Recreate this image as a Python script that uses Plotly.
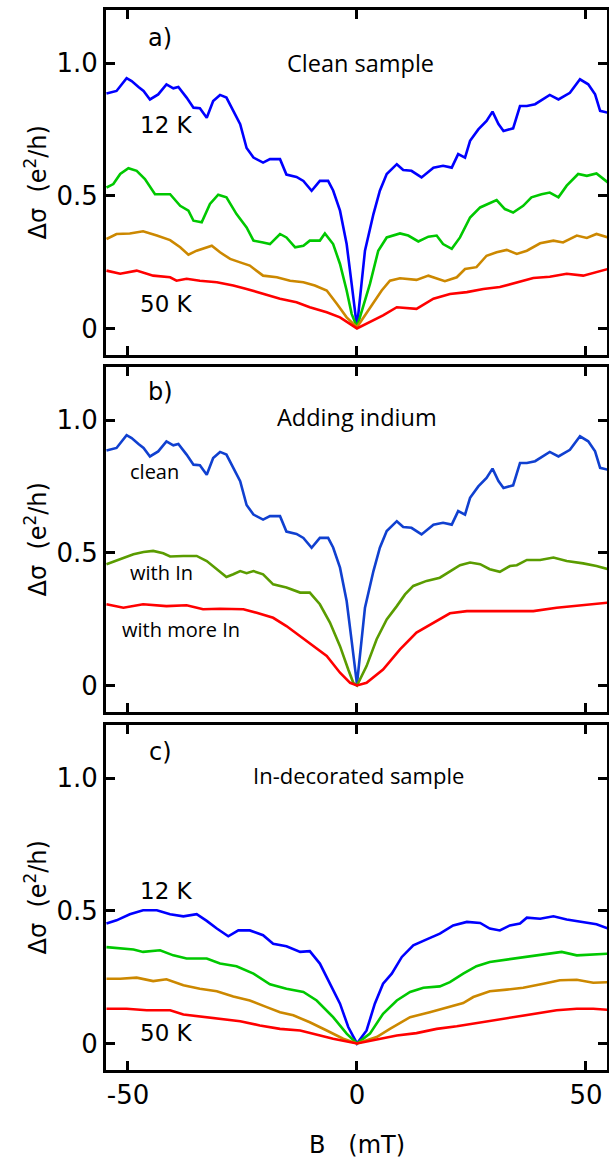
import plotly.graph_objects as go

# ---------------- data (B in mT, delta sigma in e^2/h) ----------------
a12_B = [-54.7,-52.5,-50.3,-49.2,-47.7,-46.6,-45.2,-43.4,-41.6,-40.1,-39.0,-37.2,-35.7,-34.3,-32.8,-31.4,-29.9,-28.5,-27.0,-25.5,-24.1,-22.6,-20.5,-19.0,-16.8,-15.4,-13.2,-11.7,-9.9,-8.1,-6.3,-5.2,-3.7,-2.25,-1.16,0,
         1.75,3.6,5.0,6.5,8.7,10.1,11.9,14.1,16.7,18.8,20.7,22.1,23.6,24.7,26.5,28.3,29.6,30.9,32.0,34.1,35.6,37.1,38.9,40.7,42.1,44.0,46.5,48.7,50.5,52.0,53.1,54.8]
a12_V = [0.885,0.895,0.943,0.932,0.91,0.895,0.863,0.882,0.92,0.905,0.91,0.87,0.832,0.83,0.794,0.857,0.88,0.87,0.82,0.77,0.68,0.644,0.625,0.638,0.638,0.58,0.571,0.556,0.519,0.556,0.556,0.52,0.444,0.318,0.168,0.005,
         0.293,0.431,0.519,0.582,0.619,0.597,0.594,0.569,0.606,0.613,0.606,0.657,0.644,0.707,0.75,0.782,0.817,0.77,0.744,0.754,0.838,0.838,0.845,0.863,0.88,0.863,0.888,0.939,0.92,0.882,0.82,0.813]

a2_B = [-54.7,-53.2,-51.7,-49.9,-48.1,-46.3,-44.1,-40.8,-38.6,-36.8,-35.7,-33.9,-32.1,-30.3,-28.5,-26.3,-24.1,-22.6,-20.5,-19.0,-16.8,-15.4,-13.5,-11.7,-10.3,-8.1,-7.0,-5.2,-3.7,-2.25,-1.16,0,
        2.84,4.65,6.5,9.4,11.2,13.4,15.6,17.4,18.8,20.7,22.5,24.7,26.9,29.0,30.5,32.3,34.1,36.3,38.1,40.3,42.1,44.0,45.8,48.3,50.2,52.3,54.8]
a2_V = [0.531,0.544,0.582,0.604,0.594,0.563,0.506,0.506,0.462,0.444,0.406,0.40,0.469,0.504,0.494,0.431,0.381,0.331,0.324,0.318,0.356,0.343,0.306,0.312,0.331,0.331,0.358,0.318,0.243,0.143,0.055,0.005,
        0.168,0.293,0.343,0.358,0.35,0.328,0.346,0.35,0.318,0.30,0.343,0.418,0.456,0.471,0.484,0.45,0.437,0.462,0.494,0.506,0.512,0.494,0.538,0.582,0.575,0.584,0.55]

a3_B = [-54.7,-52.5,-49.6,-46.7,-43.7,-40.8,-38.6,-36.8,-35.0,-31.7,-29.9,-27.7,-25.5,-23.4,-20.5,-17.5,-14.6,-11.7,-9.2,-6.6,-4.4,-2.25,0,
        2.84,5.4,7.2,9.4,13.0,15.6,19.2,21.8,23.6,26.1,28.3,30.5,32.7,34.9,37.1,40.0,42.9,45.0,48.0,50.2,52.3,54.8]
a3_V = [0.337,0.356,0.358,0.366,0.35,0.333,0.306,0.278,0.293,0.312,0.287,0.262,0.249,0.237,0.199,0.193,0.18,0.174,0.162,0.143,0.093,0.042,0.005,
        0.08,0.143,0.18,0.189,0.183,0.199,0.178,0.193,0.224,0.231,0.274,0.287,0.296,0.281,0.293,0.321,0.331,0.324,0.35,0.341,0.356,0.343]

a50_B = [-54.7,-51.7,-48.1,-44.5,-40.8,-39.4,-37.2,-34.3,-30.6,-27.0,-24.1,-20.5,-16.8,-13.2,-10.3,-6.6,-3.7,0,
         2.84,5.7,8.7,13.0,16.7,20.3,24.0,27.6,31.2,34.9,38.5,42.1,45.8,49.4,52.3,54.8]
a50_V = [0.218,0.206,0.218,0.199,0.193,0.18,0.187,0.18,0.174,0.162,0.149,0.13,0.112,0.099,0.08,0.061,0.042,0.0,
         0.024,0.049,0.08,0.074,0.112,0.13,0.137,0.149,0.156,0.174,0.19,0.195,0.206,0.199,0.212,0.224]

bclean_B = a12_B
bclean_V = a12_V

bin_B = [-54.7,-51.7,-48.8,-46.6,-44.5,-42.3,-40.8,-37.9,-35.0,-32.8,-30.6,-28.5,-27.0,-25.5,-24.1,-22.6,-20.5,-18.3,-15.4,-12.4,-10.3,-8.1,-5.9,-3.7,-1.9,-0.8,0,
         2.1,4.3,6.5,8.7,10.5,12.3,15.2,18.1,20.3,22.5,24.7,26.9,29.0,31.2,33.4,34.9,37.1,40.0,42.9,45.8,49.4,52.3,54.8]
bin_V = [0.457,0.475,0.494,0.503,0.507,0.498,0.486,0.488,0.488,0.469,0.44,0.409,0.419,0.431,0.423,0.431,0.419,0.381,0.369,0.35,0.35,0.306,0.237,0.148,0.06,0.01,0.0,
         0.073,0.174,0.249,0.299,0.343,0.375,0.394,0.406,0.431,0.453,0.463,0.457,0.438,0.428,0.45,0.453,0.473,0.473,0.482,0.469,0.46,0.45,0.438]

bmore_B = [-54.7,-51.0,-46.7,-41.6,-37.2,-33.6,-29.9,-24.8,-21.9,-18.3,-15.4,-12.4,-9.5,-6.6,-3.7,-1.5,0,
           2.1,5.7,9.4,13.0,16.7,20.3,24.0,31.2,38.5,43.6,49.4,54.8]
bmore_V = [0.306,0.293,0.306,0.299,0.302,0.287,0.289,0.287,0.274,0.255,0.224,0.186,0.148,0.111,0.048,0.01,0.0,
           0.01,0.06,0.136,0.199,0.237,0.272,0.28,0.28,0.28,0.293,0.302,0.312]

c12_B = [-54.7,-52.5,-49.6,-46.7,-43.7,-40.8,-37.9,-35.0,-32.8,-30.6,-28.1,-25.9,-23.4,-20.5,-18.3,-15.4,-12.4,-10.3,-8.1,-5.9,-3.7,-1.9,0,
         2.1,3.9,5.7,7.6,9.8,12.3,15.6,18.1,21.0,24.0,26.9,29.0,31.2,33.4,35.6,37.1,40.0,42.9,45.8,49.4,52.3,54.8]
c12_V = [0.452,0.464,0.487,0.502,0.502,0.487,0.479,0.487,0.462,0.433,0.404,0.426,0.426,0.408,0.376,0.366,0.345,0.348,0.301,0.225,0.15,0.062,0.0,
         0.049,0.15,0.225,0.263,0.326,0.37,0.395,0.414,0.445,0.458,0.454,0.433,0.426,0.445,0.452,0.474,0.47,0.479,0.467,0.458,0.449,0.433]

c2_B = [-54.7,-51.7,-48.8,-46.7,-43.0,-40.1,-37.2,-32.8,-29.9,-26.3,-22.6,-19.0,-15.4,-11.7,-8.8,-5.2,-2.25,0,
        2.84,5.7,8.7,11.6,14.5,18.1,20.3,23.2,26.1,29.0,32.7,37.1,40.7,44.7,48.0,51.6,54.8]
c2_V = [0.363,0.357,0.354,0.345,0.351,0.332,0.32,0.32,0.301,0.291,0.263,0.223,0.206,0.194,0.162,0.099,0.037,0.0,
        0.037,0.112,0.162,0.194,0.21,0.215,0.231,0.263,0.291,0.307,0.316,0.326,0.336,0.345,0.332,0.336,0.338]

c3_B = [-54.7,-51.7,-48.1,-44.5,-41.6,-37.9,-34.3,-30.6,-27.0,-23.4,-19.7,-16.8,-13.9,-10.3,-6.6,-3.0,0,
        4.3,7.2,11.6,15.9,20.3,23.2,25.4,29.0,32.7,36.3,40.7,44.3,48.0,51.6,54.8]
c3_V = [0.244,0.244,0.248,0.235,0.242,0.219,0.206,0.197,0.177,0.162,0.137,0.118,0.106,0.08,0.049,0.018,0.0,
        0.024,0.055,0.099,0.118,0.137,0.152,0.175,0.197,0.203,0.21,0.225,0.238,0.24,0.229,0.231]

c50_B = [-54.7,-50.3,-45.9,-40.8,-37.9,-34.3,-29.9,-25.5,-21.2,-16.8,-12.4,-8.8,-5.2,0,
         4.3,8.7,13.0,17.4,21.8,26.1,30.5,34.9,39.2,43.6,48.0,51.6,54.8]
c50_V = [0.131,0.131,0.125,0.125,0.109,0.102,0.093,0.084,0.068,0.055,0.049,0.034,0.018,0.0,
         0.014,0.03,0.039,0.055,0.065,0.077,0.089,0.102,0.114,0.125,0.131,0.131,0.127]

x_ticks = [-50, 0, 50]
x_ticktext = ["-50", "0", "50"]
y_ticks = [0, 0.5, 1.0]
y_ticktext = ["0", "0.5", "1.0"]

# ---------------- figure ----------------
W, H = 609, 1161
BLUE, GREEN, ORANGE, RED = "#0000ff", "#00c800", "#cc8800", "#ff0000"
BLUE_B, OLIVE = "#1040d0", "#5a9c00"
NUM_FONT = "DejaVu Sans"
TXT_FONT = "Open Sans"

fig = go.Figure()

panels = [
    ("x", "y", [(a12_B, a12_V, BLUE), (a2_B, a2_V, GREEN), (a3_B, a3_V, ORANGE), (a50_B, a50_V, RED)]),
    ("x2", "y2", [(bclean_B, bclean_V, BLUE_B), (bin_B, bin_V, OLIVE), (bmore_B, bmore_V, RED)]),
    ("x3", "y3", [(c12_B, c12_V, BLUE), (c2_B, c2_V, GREEN), (c3_B, c3_V, ORANGE), (c50_B, c50_V, RED)]),
]
for xa, ya, series in panels:
    for bx, by, col in series:
        fig.add_trace(go.Scatter(x=bx, y=by, xaxis=xa, yaxis=ya, mode="lines",
                                 line=dict(color=col, width=2.6), showlegend=False,
                                 hoverinfo="skip"))

xdom = [106 / W, 607 / W]
ydoms = [
    [1 - 355 / H, 1 - 10 / H],
    [1 - 712 / H, 1 - 367 / H],
    [1 - 1070 / H, 1 - 725 / H],
]

common_axis = dict(showline=True, linewidth=3, linecolor="black", mirror="ticks",
                   ticks="inside", ticklen=9, tickwidth=3, tickcolor="black",
                   showgrid=False, zeroline=False)

layout = dict(width=W, height=H, margin=dict(l=0, r=0, t=0, b=0),
              paper_bgcolor="white", plot_bgcolor="white", showlegend=False)

for i, suf in enumerate(["", "2", "3"]):
    layout["xaxis" + suf] = dict(common_axis, domain=xdom, anchor="y" + suf,
                                 range=[-54.8, 54.6], tickvals=x_ticks, ticktext=x_ticktext,
                                 showticklabels=(i == 2),
                                 tickfont=dict(family=NUM_FONT, size=26, color="black"))
    layout["yaxis" + suf] = dict(common_axis, domain=ydoms[i], anchor="x" + suf,
                                 range=[-0.1, 1.2], tickvals=y_ticks, ticktext=y_ticktext,
                                 tickfont=dict(family=NUM_FONT, size=26, color="black"))
fig.update_layout(**layout)

ann = []
def txt(xref, yref, x, y, s, size, family=NUM_FONT, **kw):
    ann.append(dict(xref=xref, yref=yref, x=x, y=y, text=s, showarrow=False,
                    font=dict(family=family, size=size, color="black"),
                    xanchor="center", yanchor="middle", **kw))

# panel a
txt("x", "y", -43, 1.094, "a)", 24)
txt("x", "y", 0.7, 1.0, "Clean sample", 23.5, TXT_FONT)
txt("x", "y", -41.5, 0.767, "12 K", 23)
txt("x", "y", -41.5, 0.092, "50 K", 23)
# panel b
txt("x2", "y2", -43, 1.106, "b)", 24)
txt("x2", "y2", 0, 1.01, "Adding indium", 23.5, TXT_FONT)
txt("x2", "y2", -44.3, 0.808, "clean", 20, TXT_FONT)
txt("x2", "y2", -42.6, 0.426, "with In", 20, TXT_FONT)
txt("x2", "y2", -38.4, 0.211, "with more In", 20, TXT_FONT)
# panel c
txt("x3", "y3", -43, 1.098, "c)", 24)
txt("x3", "y3", 0.3, 1.011, "In-decorated sample", 22, TXT_FONT)
txt("x3", "y3", -41.5, 0.574, "12 K", 23)
txt("x3", "y3", -41.5, 0.04, "50 K", 23)

# y-axis titles
for yd in ["y domain", "y2 domain", "y3 domain"]:
    txt("paper", yd, 35 / W, 0.5, "Δσ\u00a0\u00a0(e<sup>2</sup>/h)", 24, textangle=-90)
# x-axis title
txt("paper", "paper", 357 / W, 1 - 1145 / H, "B\u00a0\u00a0\u00a0(mT)", 24)

fig.update_layout(annotations=ann)
fig.write_html("out.html", config={"displayModeBar": False},
               post_script="document.body.style.margin='0';document.body.style.overflow='hidden';")
